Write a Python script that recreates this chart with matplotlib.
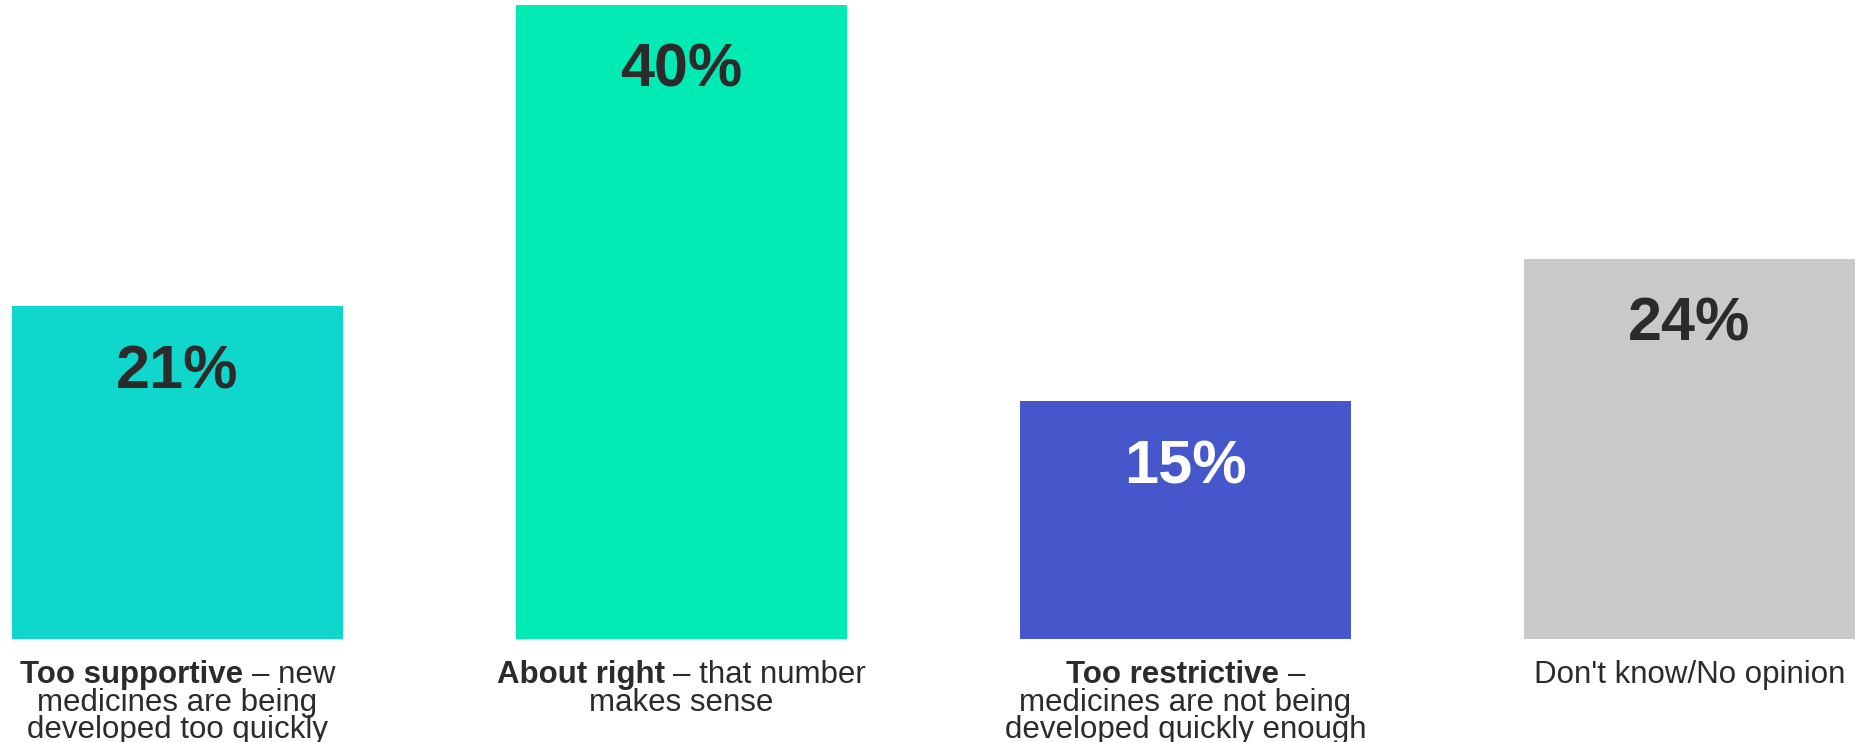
import matplotlib
matplotlib.use("Agg")
import matplotlib.pyplot as plt

categories = ["Too supportive", "About right", "Too restrictive", "Don't know/No opinion"]
values = [21, 40, 15, 24]
colors = ["#0fd7cc", "#00ebb4", "#4657cc", "#c9c9c9"]
value_colors = ["#2b2b2b", "#2b2b2b", "#ffffff", "#2b2b2b"]

# first line of each label: bold part + regular part, then extra lines
label_bold = ["Too supportive", "About right", "Too restrictive", ""]
label_rest = ["– new", "– that number", "–", "Don't know/No opinion"]
label_more = [["medicines are being", "developed too quickly"],
              ["makes sense"],
              ["medicines are not being", "developed quickly enough"],
              []]

plt.rcParams["font.family"] = ["Liberation Sans", "DejaVu Sans"]
dark = "#2b2b2b"
fs = 22.5

fig = plt.figure(figsize=(18.6, 7.42), dpi=100)
ax = fig.add_axes([0, 103 / 742, 1, 634 / 742])

x = range(len(values))
ax.bar(x, values, width=0.657, color=colors)
ax.set_xlim(-177.5 / 504, (1860 - 177.5) / 504)
ax.set_ylim(0, 40)
ax.axis("off")

for i, v in enumerate(values):
    ax.annotate(f"{v}%", xy=(i, v), xytext=(0, -59), textcoords="offset points",
                ha="center", va="baseline", fontsize=44, fontweight="bold",
                color=value_colors[i])

renderer = fig.canvas.get_renderer()
base = -32.0   # baseline of first label line, points below the bars
step = 19.8    # line spacing in points
gap = 0.278 * fs

for i in range(len(values)):
    if label_bold[i]:
        tb = ax.annotate(label_bold[i], xy=(i, 0), xytext=(0, base), textcoords="offset points",
                         ha="left", va="baseline", fontsize=fs, fontweight="bold", color=dark)
        tr = ax.annotate(label_rest[i], xy=(i, 0), xytext=(0, base), textcoords="offset points",
                         ha="left", va="baseline", fontsize=fs, color=dark)
        wb = tb.get_window_extent(renderer).width * 72 / fig.dpi
        wr = tr.get_window_extent(renderer).width * 72 / fig.dpi
        start = -(wb + gap + wr) / 2
        tb.set_position((start, base))
        tr.set_position((start + wb + gap, base))
    else:
        ax.annotate(label_rest[i], xy=(i, 0), xytext=(0, base), textcoords="offset points",
                    ha="center", va="baseline", fontsize=fs, color=dark)
    for j, line in enumerate(label_more[i]):
        ax.annotate(line, xy=(i, 0), xytext=(0, base - step * (j + 1)), textcoords="offset points",
                    ha="center", va="baseline", fontsize=fs, color=dark)

fig.savefig("out.png", dpi=100)
